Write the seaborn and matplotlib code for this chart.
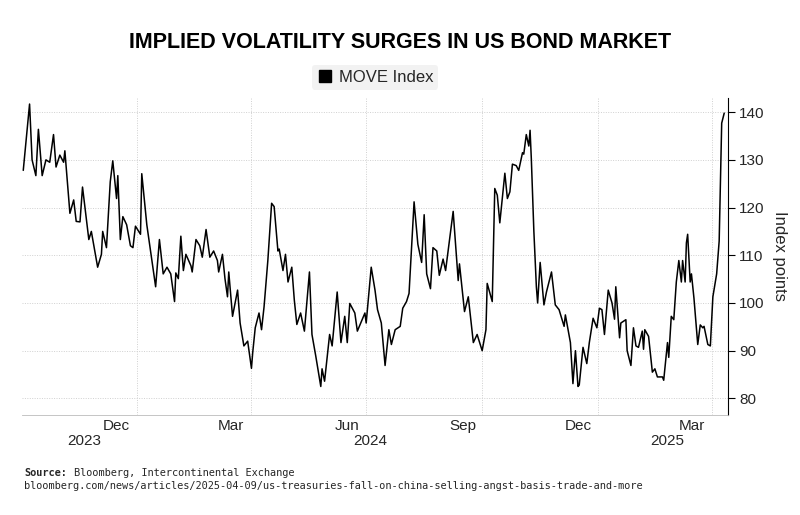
import matplotlib
matplotlib.use("Agg")
import matplotlib.pyplot as plt
import seaborn as sns
import pandas as pd

# MOVE index
dates = [
    "2023-10-03", "2023-10-08", "2023-10-10", "2023-10-13", "2023-10-15", "2023-10-18",
    "2023-10-21", "2023-10-24", "2023-10-27", "2023-10-29", "2023-11-01", "2023-11-04",
    "2023-11-05", "2023-11-09", "2023-11-12", "2023-11-14", "2023-11-17", "2023-11-19",
    "2023-11-24", "2023-11-26", "2023-12-01", "2023-12-04", "2023-12-05", "2023-12-08",
    "2023-12-11", "2023-12-13", "2023-12-16", "2023-12-17", "2023-12-19", "2023-12-21",
    "2023-12-24", "2023-12-27", "2023-12-29", "2023-12-31", "2024-01-04", "2024-01-05",
    "2024-01-09", "2024-01-16", "2024-01-19", "2024-01-22", "2024-01-25", "2024-01-28",
    "2024-01-31", "2024-02-01", "2024-02-03", "2024-02-05", "2024-02-07", "2024-02-09",
    "2024-02-13", "2024-02-14", "2024-02-17", "2024-02-20", "2024-02-22", "2024-02-25",
    "2024-02-28", "2024-03-02", "2024-03-05", "2024-03-06", "2024-03-09", "2024-03-11",
    "2024-03-13", "2024-03-14", "2024-03-17", "2024-03-21", "2024-03-23", "2024-03-26",
    "2024-03-29", "2024-04-01", "2024-04-02", "2024-04-04", "2024-04-07", "2024-04-09",
    "2024-04-11", "2024-04-14", "2024-04-17", "2024-04-19", "2024-04-22", "2024-04-23",
    "2024-04-26", "2024-04-28", "2024-04-30", "2024-05-03", "2024-05-05", "2024-05-07",
    "2024-05-10", "2024-05-13", "2024-05-17", "2024-05-19", "2024-05-22", "2024-05-26",
    "2024-05-27", "2024-05-29", "2024-06-02", "2024-06-04", "2024-06-08", "2024-06-11",
    "2024-06-14", "2024-06-16", "2024-06-18", "2024-06-22", "2024-06-24", "2024-06-30",
    "2024-07-01", "2024-07-05", "2024-07-08", "2024-07-10", "2024-07-13", "2024-07-16",
    "2024-07-19", "2024-07-21", "2024-07-24", "2024-07-28", "2024-07-30", "2024-08-02",
    "2024-08-04", "2024-08-08", "2024-08-11", "2024-08-14", "2024-08-16", "2024-08-18",
    "2024-08-21", "2024-08-23", "2024-08-26", "2024-08-28", "2024-08-31", "2024-09-02",
    "2024-09-05", "2024-09-08", "2024-09-12", "2024-09-13", "2024-09-17", "2024-09-20",
    "2024-09-24", "2024-09-27", "2024-10-01", "2024-10-04", "2024-10-05", "2024-10-09",
    "2024-10-11", "2024-10-13", "2024-10-15", "2024-10-19", "2024-10-21", "2024-10-23",
    "2024-10-25", "2024-10-28", "2024-10-30", "2024-11-02", "2024-11-03", "2024-11-05",
    "2024-11-07", "2024-11-08", "2024-11-09", "2024-11-11", "2024-11-13", "2024-11-14",
    "2024-11-16", "2024-11-19", "2024-11-21", "2024-11-24", "2024-11-25", "2024-11-28",
    "2024-12-01", "2024-12-05", "2024-12-06", "2024-12-10", "2024-12-12", "2024-12-14",
    "2024-12-16", "2024-12-17", "2024-12-20", "2024-12-23", "2024-12-25", "2024-12-28",
    "2024-12-31", "2025-01-02", "2025-01-04", "2025-01-06", "2025-01-09", "2025-01-12",
    "2025-01-14", "2025-01-15", "2025-01-18", "2025-01-19", "2025-01-23", "2025-01-24",
    "2025-01-27", "2025-01-29", "2025-01-31", "2025-02-02", "2025-02-05", "2025-02-06",
    "2025-02-07", "2025-02-10", "2025-02-13", "2025-02-15", "2025-02-17", "2025-02-21",
    "2025-02-22", "2025-02-25", "2025-02-26", "2025-02-28", "2025-03-02", "2025-03-04",
    "2025-03-06", "2025-03-08", "2025-03-09", "2025-03-11", "2025-03-12", "2025-03-13",
    "2025-03-15", "2025-03-16", "2025-03-18", "2025-03-21", "2025-03-23", "2025-03-25",
    "2025-03-26", "2025-03-29", "2025-03-31", "2025-04-02", "2025-04-05", "2025-04-07",
    "2025-04-09", "2025-04-11",
]
move = [
    127.8, 141.7, 130, 126.7, 136.4, 126.7,
    130, 129.5, 135.3, 128.5, 131, 129.5,
    131.9, 118.8, 121.6, 117.1, 117, 124.3,
    113.3, 115, 107.5, 110.2, 115, 111.6,
    125.4, 129.8, 121.9, 126.7, 113.3, 118.1,
    116.4, 112, 111.6, 116.1, 114.4, 127.1,
    116.4, 103.4, 113.3, 106.1, 107.5, 106.1,
    100.3, 106.3, 105.1, 114, 106.8, 110.2,
    107.8, 106.5, 113.3, 112, 109.6, 115.4,
    109.6, 110.9, 108.9, 106.5, 110.2, 105.1,
    101.3, 106.5, 97.2, 102.7, 95.8, 91,
    92, 86.3, 89.6, 94.8, 97.9, 94.4,
    99.2, 108.9, 120.9, 120.2, 110.9, 111.3,
    106.8, 110.2, 104.4, 107.5, 100.6, 95.5,
    97.9, 94.1, 106.5, 93.4, 88.9, 82.5,
    86.2, 83.6, 93.4, 91, 102.3, 91.7,
    97.2, 91.7, 99.9, 97.9, 94.1, 97.9,
    95.8, 107.5, 102.7, 98.6, 95.8, 86.9,
    94.4, 91.3, 94.4, 95.1, 98.9, 100.3,
    102, 121.2, 112.3, 108.5, 118.5, 106.1,
    103, 111.6, 110.9, 105.8, 109.2, 106.8,
    113, 119.2, 104.7, 108.2, 98.2, 101.3,
    91.7, 93.4, 90, 94.4, 104.1, 100.3,
    124, 122.6, 116.8, 127.2, 121.9, 123.3,
    129.1, 128.8, 127.8, 131.5, 131.2, 135.3,
    132.9, 136.2, 130.2, 115.1, 103.4, 100,
    108.5, 99.6, 102.3, 105.4, 106.5, 99.6,
    98.6, 95.1, 97.5, 91.7, 83.1, 90,
    82.5, 82.8, 90.7, 87.3, 91.7, 96.8,
    94.8, 98.9, 98.6, 93.4, 102.7, 100,
    96.6, 103.4, 92.7, 95.8, 96.5, 90,
    86.9, 94.8, 91, 90.7, 94.1, 90.3,
    94.4, 93, 85.5, 86.2, 84.5, 84.5,
    83.8, 91.7, 88.6, 97.2, 96.5, 104.4,
    108.9, 104.4, 108.9, 104.4, 112.6, 114.4,
    104.4, 106.1, 101, 91.3, 95.4, 94.8,
    95.1, 91.3, 91, 101.3, 106.1, 113,
    137.7, 139.8,
]
month_labels = ["Dec", "Mar", "Jun", "Sep", "Dec", "Mar"]
month_label_dates = ["2023-12-16", "2024-03-16", "2024-06-16", "2024-09-16", "2024-12-16", "2025-03-16"]
year_labels = ["2023", "2024", "2025"]
year_label_dates = ["2023-11-20", "2024-07-04", "2025-02-25"]
quarter_lines = ["2024-01-01", "2024-04-01", "2024-07-01", "2024-10-01", "2025-01-01", "2025-04-01"]

df = pd.DataFrame({"date": pd.to_datetime(dates), "MOVE Index": move})

sns.set_style("white")
plt.rcParams["font.family"] = ["Liberation Sans", "DejaVu Sans"]

fig = plt.figure(figsize=(8, 5.15), dpi=100)
ax = fig.add_axes([0.0275, 0.194, 0.8825, 0.616])

sns.lineplot(data=df, x="date", y="MOVE Index", ax=ax, color="black", linewidth=1.1)

ax.set_xlim(pd.Timestamp("2023-10-02"), pd.Timestamp("2025-04-14"))
ax.set_ylim(76.5, 143)

# dotted grid
for v in range(80, 141, 10):
    ax.axhline(v, color="#d0d0d0", linestyle=(0, (1, 1.5)), linewidth=0.7, zorder=0)
for q in quarter_lines:
    ax.axvline(pd.Timestamp(q), color="#d0d0d0", linestyle=(0, (1, 1.5)), linewidth=0.7, zorder=0)

ax.yaxis.tick_right()
ax.yaxis.set_label_position("right")
ax.set_yticks(range(80, 141, 10))
ax.tick_params(axis="y", labelsize=11, length=5, width=0.8, color="black", pad=3)
ax.set_ylabel("Index points", fontsize=12, rotation=-90, labelpad=16)

ax.set_xticks([pd.Timestamp(q) for q in quarter_lines])
ax.set_xticklabels([])
ax.tick_params(axis="x", length=4, color="#888888")
ax.set_xlabel("")
for lab, d in zip(month_labels, month_label_dates):
    ax.text(pd.Timestamp(d), -0.012, lab, transform=ax.get_xaxis_transform(),
            ha="center", va="top", fontsize=11)
for lab, d in zip(year_labels, year_label_dates):
    ax.text(pd.Timestamp(d), -0.06, lab, transform=ax.get_xaxis_transform(),
            ha="center", va="top", fontsize=11)

for s in ["top", "left"]:
    ax.spines[s].set_visible(False)
ax.spines["right"].set_color("black")
ax.spines["right"].set_linewidth(0.8)
ax.spines["bottom"].set_color("#bbbbbb")
ax.spines["bottom"].set_linewidth(0.6)

leg = ax.legend(handles=[plt.Line2D([], [], marker="s", color="black", linestyle="none", markersize=8)],
                labels=["MOVE Index"], loc="lower center", bbox_to_anchor=(0.5, 1.0),
                frameon=True, fontsize=12, handletextpad=0.3, borderpad=0.3, handlelength=1)
leg.get_frame().set_facecolor("#efefef")
leg.get_frame().set_edgecolor("none")

fig.text(0.5, 0.918, "IMPLIED VOLATILITY SURGES IN US BOND MARKET", ha="center", va="center",
         fontsize=15.5, fontweight="bold", color="black")
mono = "DejaVu Sans Mono"
fig.text(0.03, 0.082, "Source:", fontsize=7.4, family=mono, fontweight="bold", va="center")
fig.text(0.092, 0.082, "Bloomberg, Intercontinental Exchange", fontsize=7.4, family=mono, va="center")
fig.text(0.03, 0.056, "bloomberg.com/news/articles/2025-04-09/us-treasuries-fall-on-china-selling-angst-basis-trade-and-more",
         fontsize=7.4, family=mono, va="center")

fig.savefig("out.png", dpi=100)
